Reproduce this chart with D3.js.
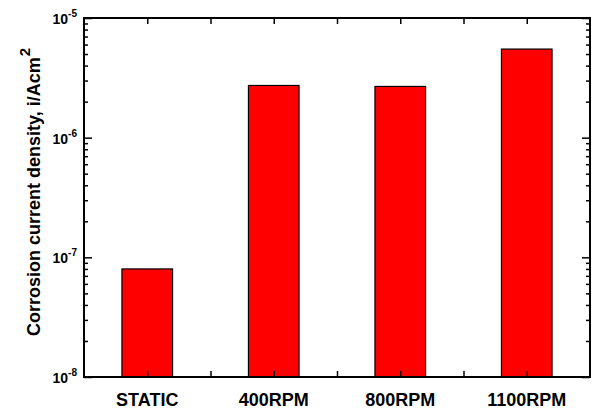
<!DOCTYPE html>
<html>
<head>
<meta charset="utf-8">
<script src="https://cdn.jsdelivr.net/npm/d3@7"></script>
<style>
  html, body { margin: 0; padding: 0; background: #fff; }
  svg { display: block; font-family: "Liberation Sans", Arial, sans-serif; font-weight: bold; }
</style>
</head>
<body>
<svg id="chart" width="592" height="410"></svg>
<script>
// Corrosion current density per rotation condition
const categories = ["STATIC", "400RPM", "800RPM", "1100RPM"];
const currentDensity = [8.0e-8, 2.73e-6, 2.68e-6, 5.5e-6];
const yMajorTicks = [1e-8, 1e-7, 1e-6, 1e-5];
const yTickExponents = ["-8", "-7", "-6", "-5"];
const yTitle = "Corrosion current density, i/Acm";
const yTitleSup = "2";

const svg = d3.select("#chart");
const plotLeft = 84, plotRight = 590, plotTop = 18, plotBottom = 377;

const x = d3.scaleLinear().domain([0.5, categories.length + 0.5]).range([plotLeft, plotRight]);
const y = d3.scaleLog().domain([1e-8, 1e-5]).range([plotBottom, plotTop]);

// minor ticks: 2..9 within each decade
const yMinorTicks = [];
for (let i = 0; i < yMajorTicks.length - 1; i++) {
  for (let m = 2; m <= 9; m++) yMinorTicks.push(yMajorTicks[i] * m);
}
// x ticks at every category centre and half-way between them
const xTicks = d3.range(1, categories.length + 0.01, 0.5);

const barW = x(1.4) - x(1);

// bars
svg.append("g").selectAll("rect")
  .data(currentDensity)
  .join("rect")
  .attr("x", (d, i) => x(i + 1) - barW / 2)
  .attr("y", d => y(d))
  .attr("width", barW)
  .attr("height", d => plotBottom - y(d))
  .attr("fill", "#ff0000")
  .attr("stroke", "#000")
  .attr("stroke-width", 1.2);

// axes with inward ticks on all four sides
function styleAxis(g) {
  g.select(".domain").remove();
  g.selectAll(".tick line").attr("stroke", "#000").attr("stroke-width", 1.5);
  g.selectAll(".tick text").remove();
}
svg.append("g").attr("transform", `translate(0,${plotBottom})`)
  .call(d3.axisBottom(x).tickValues(xTicks).tickSize(-6).tickFormat("")).call(styleAxis);
svg.append("g").attr("transform", `translate(0,${plotTop})`)
  .call(d3.axisTop(x).tickValues(xTicks).tickSize(-6).tickFormat("")).call(styleAxis);
svg.append("g").attr("transform", `translate(${plotLeft},0)`)
  .call(d3.axisLeft(y).tickValues(yMajorTicks).tickSize(-8).tickFormat("")).call(styleAxis);
svg.append("g").attr("transform", `translate(${plotLeft},0)`)
  .call(d3.axisLeft(y).tickValues(yMinorTicks).tickSize(-4).tickFormat("")).call(styleAxis);
svg.append("g").attr("transform", `translate(${plotRight},0)`)
  .call(d3.axisRight(y).tickValues(yMajorTicks).tickSize(-8).tickFormat("")).call(styleAxis);
svg.append("g").attr("transform", `translate(${plotRight},0)`)
  .call(d3.axisRight(y).tickValues(yMinorTicks).tickSize(-4).tickFormat("")).call(styleAxis);

// frame
svg.append("rect")
  .attr("x", plotLeft).attr("y", plotTop)
  .attr("width", plotRight - plotLeft).attr("height", plotBottom - plotTop)
  .attr("fill", "none").attr("stroke", "#000").attr("stroke-width", 2);

// y tick labels 10^n
const yl = svg.append("g").selectAll("text")
  .data(yMajorTicks)
  .join("text")
  .attr("x", 77)
  .attr("y", d => y(d) + 6)
  .attr("text-anchor", "end")
  .attr("font-size", 14)
  .attr("fill", "#000");
yl.append("tspan").text("10");
yl.append("tspan").attr("font-size", 10).attr("dy", -7).text((d, i) => yTickExponents[i]);

// category labels
svg.append("g").selectAll("text")
  .data(categories)
  .join("text")
  .attr("x", (d, i) => x(i + 1))
  .attr("y", 406)
  .attr("text-anchor", "middle")
  .attr("font-size", 18)
  .attr("fill", "#000")
  .text(d => d);

// y axis title
const t = svg.append("text")
  .attr("transform", "translate(40,192) rotate(-90)")
  .attr("text-anchor", "middle")
  .attr("font-size", 18)
  .attr("fill", "#000");
t.append("tspan").text(yTitle);
t.append("tspan").attr("font-size", 15).attr("dy", -10).attr("dx", 1).text(yTitleSup);
</script>
</body>
</html>
